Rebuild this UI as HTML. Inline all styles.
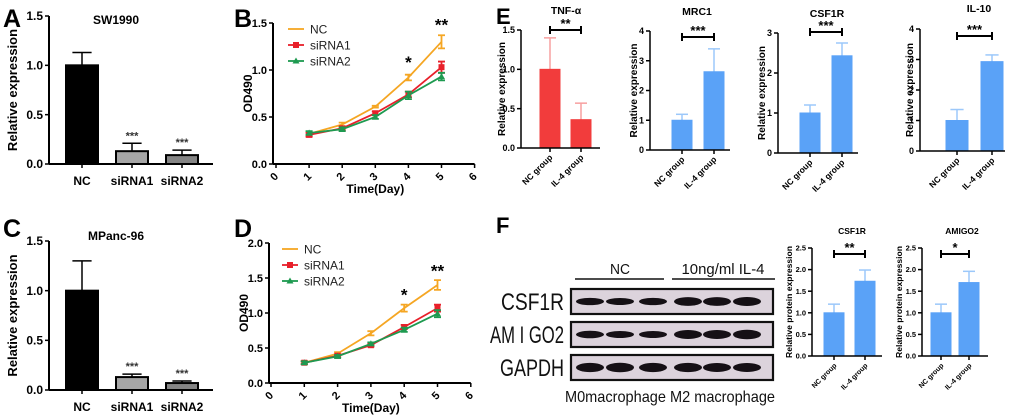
<!DOCTYPE html>
<html><head><meta charset="utf-8"><style>
html,body{margin:0;padding:0;background:#fff;}
svg{display:block;font-family:"Liberation Sans",Arial,sans-serif;}
</style></head><body>
<svg id="fig" width="1020" height="420" viewBox="0 0 1020 420" xmlns="http://www.w3.org/2000/svg">
<g font-weight="bold" font-size="25" fill="#000">
<text x="3" y="27">A</text>
<text x="234" y="27">B</text>
<text x="3" y="237">C</text>
<text x="234" y="237">D</text>
<text x="496" y="24" font-size="22">E</text>
<text x="496" y="233" font-size="22">F</text>
</g>
<g id="blot"></g>
</svg>
<script>
// ---- data ----
const grpA = ["NC","siRNA1","siRNA2"];
const valsA = [1.0,0.13,0.09];
const errsA = [0.13,0.08,0.05];
const valsC = [1.0,0.13,0.07];
const errsC = [0.30,0.03,0.02];
const daysB = [1,2,3,4,5];
const ncB = [0.32,0.42,0.61,0.92,1.30];
const ncBerr = [0.02,0.02,0.01,0.03,0.07];
const s1B = [0.31,0.38,0.54,0.74,1.03];
const s1Berr = [0.02,0.02,0.02,0.03,0.06];
const s2B = [0.33,0.37,0.50,0.73,0.93];
const s2Berr = [0.02,0.02,0.02,0.04,0.04];
const ncD = [0.29,0.42,0.71,1.07,1.40];
const ncDerr = [0.02,0.02,0.03,0.05,0.07];
const s1D = [0.29,0.39,0.54,0.80,1.07];
const s1Derr = [0.02,0.02,0.02,0.03,0.05];
const s2D = [0.29,0.38,0.56,0.76,0.99];
const s2Derr = [0.02,0.02,0.02,0.03,0.05];
const grpE = ["NC group","IL-4 group"];
const tnfV = [1.0,0.36], tnfE = [0.40,0.21];
const mrcV = [1.0,2.63], mrcE = [0.20,0.77];
const csfV = [1.0,2.43], csfE = [0.20,0.32];
const il10V = [1.0,2.93], il10E = [0.36,0.22];
const csfPV = [1.0,1.73], csfPE = [0.20,0.26];
const amiPV = [1.0,1.70], amiPE = [0.20,0.26];
const ticksA = [0,0.5,1.0,1.5];
const ticksB = [0,0.5,1.0,1.5];
const ticksD = [0,0.5,1.0,1.5,2.0];
const ticksX = [0,1,2,3,4,5,6];
const ticksTnf = [0,0.5,1.0,1.5];
const ticks4 = [0,1,2,3,4];
const ticks3 = [0,1,2,3];
const ticksP = [0,0.5,1.0,1.5,2.0,2.5];

const NS="http://www.w3.org/2000/svg";
const svg=document.getElementById('fig');
function el(tag,attrs,parent,txt){const e=document.createElementNS(NS,tag);for(const k in attrs)e.setAttribute(k,attrs[k]);if(txt!==undefined)e.textContent=txt;(parent||svg).appendChild(e);return e;}

function barChart(o){
  const g=el('g',{});
  
  
  const y=v=>o.y0-(v/o.max)*(o.y0-o.yTop);
  const x=i=>o.c0+i*o.step;
  o.vals.forEach((v,i)=>{
    const cx=x(i), w=o.bw;
    const col=o.colors[i];
    const top=y(v+o.errs[i]);
    const ln=el('line',{x1:cx,x2:cx,y1:y(v),y2:top,stroke:o.errCol||'#000','stroke-width':o.lw||1.5},g);
    
    
    const cap=el('line',{x1:cx-w*0.3,x2:cx+w*0.3,y1:top,y2:top,stroke:o.errCol||'#000','stroke-width':o.lw||1.5},g);
    
    
    const r=el('rect',{x:cx-w/2,y:y(v),width:w,height:o.y0-y(v),fill:col,stroke:o.stroke||col,'stroke-width':o.stroke?2:1},g);
    
    
    if(o.stars&&o.stars[i]){
      const s=el('text',{x:cx,y:top-4,'text-anchor':'middle','font-size':11,'font-weight':'bold',fill:'#333'},g,o.stars[i]);
      
      
    }
    let t;
    if(o.rot){
      t=el('text',{x:cx+3,y:o.y0+10,'text-anchor':'end','font-size':o.xfs,'font-weight':'bold',transform:`rotate(-45 ${cx+3} ${o.y0+10})`},g,o.labels[i]);
    }else{
      t=el('text',{x:cx,y:o.y0+21,'text-anchor':'middle','font-size':o.xfs,'font-weight':'bold'},g,o.labels[i]);
    }
    
    
    const tk=el('line',{x1:cx,x2:cx,y1:o.y0,y2:o.y0+4,stroke:'#000','stroke-width':1.5},g);
    
    
  });
  const ya=el('line',{x1:o.ax,x2:o.ax,y1:o.yTop,y2:o.y0,stroke:'#000','stroke-width':o.alw||2},g);
  
  
  const xa=el('line',{x1:o.ax,x2:o.xEnd,y1:o.y0,y2:o.y0,stroke:'#000','stroke-width':o.alw||2},g);
  
  
  o.ticks.forEach(v=>{
    const l=el('line',{x1:o.ax-4,x2:o.ax,y1:y(v),y2:y(v),stroke:'#000','stroke-width':1.5},g);
    
    
    const t=el('text',{x:o.ax-6,y:y(v)+o.yfs*0.35,'text-anchor':'end','font-size':o.yfs,'font-weight':'bold'},g,o.fmt(v));
    
    
  });
  const cy=(o.y0+o.yTop)/2;
  const ytAttrs={x:o.ytx,y:cy,'text-anchor':'middle','font-size':o.ytfs,'font-weight':'bold',transform:`rotate(-90 ${o.ytx} ${cy})`};
  if(o.ytlen){ytAttrs.textLength=o.ytlen;ytAttrs.lengthAdjust='spacingAndGlyphs';}
  const yt=el('text',ytAttrs,g,o.ytitle);
  
  
  const tt=el('text',{x:o.tx,y:o.ty,'text-anchor':'middle','font-size':o.tfs,'font-weight':'bold'},g,o.title);
  
  
  if(o.bracket){
    const by=o.bracketY;
    const b=el('path',{d:`M${x(0)} ${by-4}V${by+4}M${x(0)} ${by}H${x(1)}M${x(1)} ${by-4}V${by+4}`,stroke:'#000','stroke-width':2,fill:'none'},g);
    
    
    const s=el('text',{x:(x(0)+x(1))/2,y:by-2,'text-anchor':'middle','font-size':13,'font-weight':'bold'},g,o.bracket);
    
    
  }
}
const f1=v=>v.toFixed(1), f0=v=>String(v);

barChart({name:'chart-a-sw1990',ax:49,xEnd:213,y0:164,yTop:16,max:1.5,ticks:ticksA,fmt:f1,c0:82,step:50,bw:32,
  vals:valsA,errs:errsA,colors:['#000','#a6a6a6','#858585'],stroke:'#000',labels:grpA,stars:['','***','***'],
  xfs:12,yfs:12,ytx:17,ytfs:13,ytitle:'Relative expression',title:'SW1990',tx:116,ty:24,tfs:12,alw:2});
barChart({name:'chart-c-mpanc96',ax:49,xEnd:213,y0:390,yTop:241,max:1.5,ticks:ticksA,fmt:f1,c0:82,step:50,bw:32,
  vals:valsC,errs:errsC,colors:['#000','#a6a6a6','#858585'],stroke:'#000',labels:grpA,stars:['','***','***'],
  xfs:12,yfs:12,ytx:17,ytfs:13,ytitle:'Relative expression',title:'MPanc-96',tx:116,ty:240,tfs:12,alw:2});

const red='#f23c3c', blue='#5aa2f7';
barChart({name:'chart-e-tnf',ax:521,xEnd:600,y0:148,yTop:30,max:1.5,ticks:ticksTnf,fmt:f1,c0:550,step:31,bw:20,
  vals:tnfV,errs:tnfE,colors:[red,red],errCol:'#f7a0a0',labels:grpE,rot:true,
  xfs:8.5,yfs:9,ytx:505,ytfs:10,ytitle:'Relative expression',title:'TNF-α',tx:566,ty:14,tfs:10.5,alw:1.5,bracket:'**',bracketY:30});
barChart({name:'chart-e-mrc1',ax:650,xEnd:730,y0:150,yTop:31,max:4,ticks:ticks4,fmt:f0,c0:682,step:32,bw:20,
  vals:mrcV,errs:mrcE,colors:[blue,blue],errCol:'#9cc8fa',labels:grpE,rot:true,
  xfs:8.5,yfs:9,ytx:637,ytfs:10,ytitle:'Relative expression',title:'MRC1',tx:697,ty:15,tfs:10.5,alw:1.5,bracket:'***',bracketY:37});
barChart({name:'chart-e-csf1r',ax:778,xEnd:858,y0:153,yTop:33,max:3,ticks:ticks3,fmt:f0,c0:810,step:32,bw:20,
  vals:csfV,errs:csfE,colors:[blue,blue],errCol:'#9cc8fa',labels:grpE,rot:true,
  xfs:8.5,yfs:9,ytx:765,ytfs:10,ytitle:'Relative expression',title:'CSF1R',tx:827,ty:17,tfs:10.5,alw:1.5,bracket:'***',bracketY:32});
barChart({name:'chart-e-il10',ax:920,xEnd:1005,y0:151,yTop:29,max:4,ticks:ticks4,fmt:f0,c0:957,step:35,bw:22,
  vals:il10V,errs:il10E,colors:[blue,blue],errCol:'#9cc8fa',labels:grpE,rot:true,
  xfs:8.5,yfs:9,ytx:913,ytfs:10,ytitle:'Relative expression',title:'IL-10',tx:979,ty:12,tfs:10.5,alw:1.5,bracket:'***',bracketY:36});
barChart({name:'chart-f-csf1r-protein',ax:812,xEnd:882,y0:356,yTop:248,max:2.5,ticks:ticksP,fmt:f1,c0:834,step:31,bw:20,
  vals:csfPV,errs:csfPE,colors:[blue,blue],errCol:'#9cc8fa',labels:grpE,rot:true,
  xfs:7,yfs:7.5,ytx:792,ytfs:8,ytlen:112,ytitle:'Relative protein expression',title:'CSF1R',tx:852,ty:234,tfs:8.5,alw:1.5,bracket:'**',bracketY:254});
barChart({name:'chart-f-amigo2-protein',ax:922,xEnd:988,y0:356,yTop:248,max:2.5,ticks:ticksP,fmt:f1,c0:941,step:28,bw:20,
  vals:amiPV,errs:amiPE,colors:[blue,blue],errCol:'#9cc8fa',labels:grpE,rot:true,
  xfs:7,yfs:7.5,ytx:902,ytfs:8,ytlen:112,ytitle:'Relative protein expression',title:'AMIGO2',tx:962,ty:234,tfs:8.5,alw:1.5,bracket:'*',bracketY:254});

function lineChart(o){
  const g=el('g',{});
  
  
  const x=v=>o.x0+v*o.dx;
  const y=v=>o.y0-(v/o.max)*(o.y0-o.yTop);
  const ya=el('line',{x1:o.ax,x2:o.ax,y1:o.yTop,y2:o.y0,stroke:'#000','stroke-width':2},g);
  
  
  const xa=el('line',{x1:o.ax,x2:x(6),y1:o.y0,y2:o.y0,stroke:'#000','stroke-width':2},g);
  
  
  o.yticks.forEach(v=>{
    const l=el('line',{x1:o.ax-4,x2:o.ax,y1:y(v),y2:y(v),stroke:'#000','stroke-width':1.5},g);
    
    
    const t=el('text',{x:o.ax-6,y:y(v)+4,'text-anchor':'end','font-size':11,'font-weight':'bold'},g,v.toFixed(1));
    
    
  });
  ticksX.forEach(v=>{
    const l=el('line',{x1:x(v),x2:x(v),y1:o.y0,y2:o.y0+4,stroke:'#000','stroke-width':1.5},g);
    
    
    const tx=x(v)+3, ty=o.y0+13;
    const t=el('text',{x:tx,y:ty,'text-anchor':'end','font-size':11,'font-weight':'bold',transform:`rotate(-45 ${tx} ${ty})`},g,String(v));
    
    
  });
  const cy=(o.y0+o.yTop)/2;
  const yt=el('text',{x:o.ax-21,y:cy,'text-anchor':'middle','font-size':12,'font-weight':'bold',transform:`rotate(-90 ${o.ax-21} ${cy})`},g,'OD490');
  
  
  const xt=el('text',{x:x(3),y:o.y0+29,'text-anchor':'middle','font-size':12,'font-weight':'bold'},g,'Time(Day)');
  
  
  o.series.forEach((s,si)=>{
    const pts=daysB.map((d,i)=>x(d)+','+y(s.v[i])).join(' ');
    const pl=el('polyline',{points:pts,fill:'none',stroke:s.c,'stroke-width':1.8},g);
    
    
    daysB.forEach((d,i)=>{
      const cx=x(d), v=s.v[i], e=s.e[i];
      const eb=el('path',{d:`M${cx} ${y(v-e)}V${y(v+e)}M${cx-3.5} ${y(v-e)}H${cx+3.5}M${cx-3.5} ${y(v+e)}H${cx+3.5}`,stroke:s.c,'stroke-width':1.8,fill:'none'},g);
      
      
      let m;
      if(s.m==='sq') m=el('rect',{x:cx-3,y:y(v)-3,width:6,height:6,fill:s.c},g);
      else if(s.m==='tri') m=el('path',{d:`M${cx} ${y(v)-3.5}L${cx+3.5} ${y(v)+2.5}L${cx-3.5} ${y(v)+2.5}Z`,fill:s.c},g);
      if(m){
      }
    });
    const ly=o.legY+si*o.legDy;
    const ll=el('line',{x1:o.legX,x2:o.legX+16,y1:ly,y2:ly,stroke:s.c,'stroke-width':1.8},g);
    
    
    if(s.m==='sq'){const q=el('rect',{x:o.legX+5,y:ly-3,width:6,height:6,fill:s.c},g);}
    if(s.m==='tri'){const q=el('path',{d:`M${o.legX+8} ${ly-3.5}L${o.legX+11.5} ${ly+2.5}L${o.legX+4.5} ${ly+2.5}Z`,fill:s.c},g);}
    const lt=el('text',{x:o.legX+22,y:ly+4.5,'font-size':12,fill:'#222'},g,s.n);
    
    
  });
  o.stars.forEach((st,i)=>{
    if(!st)return;
    const t=el('text',{x:x(daysB[i]),y:y(o.starY[i]),'text-anchor':'middle','font-size':17,'font-weight':'bold'},g,st);
    
    
  });
}
lineChart({name:'chart-b-growth',ax:273,x0:276,dx:33.1,y0:164,yTop:23,max:1.5,yticks:ticksB,legX:288,legY:29,legDy:16,
  series:[{n:'NC',v:ncB,e:ncBerr,c:'#f5a623',m:'none'},{n:'siRNA1',v:s1B,e:s1Berr,c:'#e8202a',m:'sq'},{n:'siRNA2',v:s2B,e:s2Berr,c:'#1e9a50',m:'tri'}],
  stars:['','','','*','**'],starY:[0,0,0,1.02,1.42]});
lineChart({name:'chart-d-growth',ax:269,x0:271,dx:33.3,y0:383,yTop:243,max:2.0,yticks:ticksD,legX:282,legY:249,legDy:16,
  series:[{n:'NC',v:ncD,e:ncDerr,c:'#f5a623',m:'none'},{n:'siRNA1',v:s1D,e:s1Derr,c:'#e8202a',m:'sq'},{n:'siRNA2',v:s2D,e:s2Derr,c:'#1e9a50',m:'tri'}],
  stars:['','','','*','**'],starY:[0,0,0,1.18,1.52]});

// western blot
const blot=document.getElementById('blot');
const lanes=[590,620,653,688,717,747];
const rows=[{n:'CSF1R',y:289,len:63,w:[0.45,0.4,0.45,0.75,0.75,0.8]},{n:'AMIGO2',y:322,len:74,w:[0.5,0.4,0.4,0.8,0.8,0.9]},{n:'GAPDH',y:355,len:64,w:[0.85,0.9,0.85,0.85,0.8,0.8]}];
rows.forEach(r=>{
  const b=el('rect',{x:571,y:r.y,width:202,height:25,fill:'#dcd3dc',stroke:'#111','stroke-width':2.2},blot);
  
  
  lanes.forEach((lx,i)=>{
    const e=el('ellipse',{cx:lx,cy:r.y+12.5,rx:14,ry:2.5+r.w[i]*2.5,fill:'#151015'},blot);
    
    
  });
  const t=el('text',{x:564,y:r.y+21,'text-anchor':'end','font-size':24,fill:'#111',textLength:r.len,lengthAdjust:'spacingAndGlyphs'},blot,r.n==='AMIGO2'?'AM I GO2':r.n);
  
  
});
[['NC',620,'group-label-nc',20],['10ng/ml IL-4',723,'group-label-il4',83]].forEach(a=>{
  const t=el('text',{x:a[1],y:274,'text-anchor':'middle','font-size':15,fill:'#111',textLength:a[3],lengthAdjust:'spacingAndGlyphs'},blot,a[0]);
  
  
});
const gl=el('path',{d:'M575 279H664M672 279H775',stroke:'#111','stroke-width':1.5},blot);


const bt=el('text',{x:670,y:402,'text-anchor':'middle','font-size':16,fill:'#111',textLength:210,lengthAdjust:'spacingAndGlyphs'},blot,'M0macrophage M2 macrophage');


</script>
</body></html>
